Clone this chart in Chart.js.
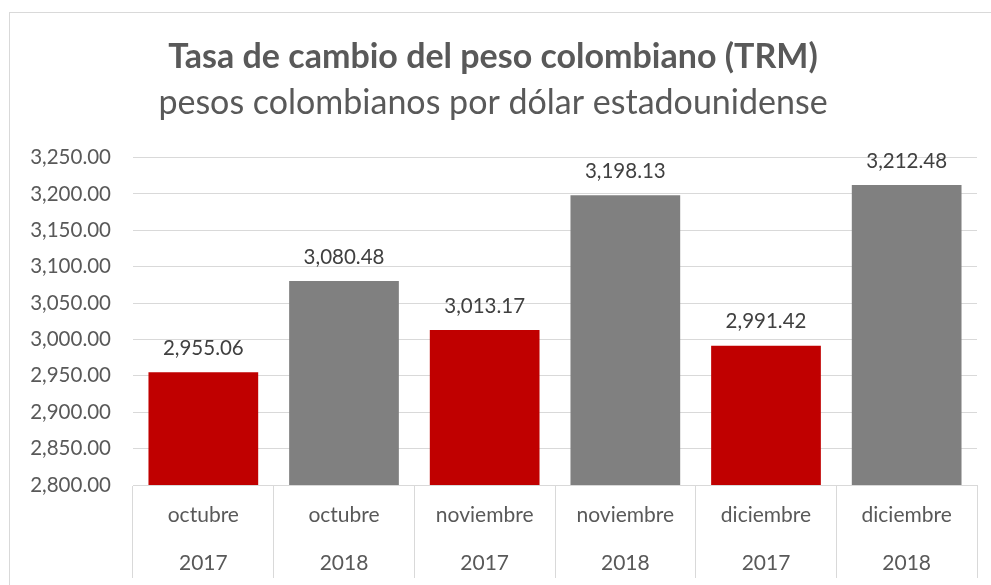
<!DOCTYPE html>
<html>
<head>
<meta charset="utf-8">
<script src="https://cdn.jsdelivr.net/npm/chart.js@4.4.0/dist/chart.umd.min.js"></script>
<style>
  body { margin: 0; background: #fff; }
  #frame { position: absolute; left: 9px; top: 12px; width: 1000px; height: 600px; border: 1px solid #d9d9d9; }
  #wrap { position: absolute; left: 0; top: 0; width: 991px; height: 585px; }
</style>
</head>
<body>
<div id="frame"></div>
<div id="wrap"><canvas id="trm"></canvas></div>
<script>
// datos TRM
let meses = ['octubre', 'octubre', 'noviembre', 'noviembre', 'diciembre', 'diciembre'];
let anios = ['2017', '2018', '2017', '2018', '2017', '2018'];
let trm = [2955.06, 3080.48, 3013.17, 3198.13, 2991.42, 3212.48];
let colores = ['#C00000', '#808080', '#C00000', '#808080', '#C00000', '#808080'];

function fmt(v) {
    return v.toLocaleString('en-US', { minimumFractionDigits: 2, maximumFractionDigits: 2 });
}

// etiquetas encima de cada barra
const etiquetas = {
    id: 'etiquetas',
    afterDatasetsDraw(chart) {
        let ctx = chart.ctx;
        let meta = chart.getDatasetMeta(0);
        ctx.save();
        ctx.font = '20.5px Lato';
        ctx.fillStyle = '#404040';
        ctx.textAlign = 'center';
        ctx.textBaseline = 'middle';
        meta.data.forEach((bar, i) => {
            ctx.fillText(fmt(trm[i]), bar.x, bar.y - 24);
        });
        ctx.restore();
    }
};

let labels = meses.map((m, i) => [m, anios[i]]);

var chart = new Chart(document.getElementById('trm'), {
    type: 'bar',
    data: {
        labels: labels,
        datasets: [{
            data: trm,
            backgroundColor: colores,
            barPercentage: 0.78,
            categoryPercentage: 1.0
        }]
    },
    options: {
        responsive: true,
        maintainAspectRatio: false,
        animation: false,
        layout: { padding: { left: 9, right: 14, top: 0, bottom: 7 } },
        scales: {
            y: {
                min: 2800,
                max: 3250,
                ticks: {
                    stepSize: 50,
                    padding: 22,
                    color: '#595959',
                    font: { family: 'Lato', size: 20.5 },
                    callback: (v) => fmt(v)
                },
                grid: { color: '#d9d9d9', drawTicks: false },
                border: { display: false },
                afterFit: (s) => { s.width = 124; }
            },
            x: {
                ticks: {
                    padding: -87,
                    color: '#595959',
                    font: { family: 'Lato', size: 21, lineHeight: '48px' },
                    maxRotation: 0,
                    autoSkip: false
                },
                grid: {
                    offset: true,
                    drawOnChartArea: false,
                    tickLength: 93,
                    color: '#d9d9d9'
                },
                border: { display: true, color: '#d9d9d9' },
                afterFit: (s) => { s.height = 93; }
            }
        },
        plugins: {
            legend: { display: false },
            tooltip: { enabled: false },
            title: {
                display: true,
                text: 'Tasa de cambio del peso colombiano (TRM)',
                color: '#595959',
                font: { family: 'Lato', size: 34, weight: 'bold', lineHeight: 1.2 },
                padding: { top: 37, bottom: 5 }
            },
            subtitle: {
                display: true,
                text: 'pesos colombianos por dólar estadounidense',
                color: '#595959',
                font: { family: 'Lato', size: 34, lineHeight: 1.2 },
                padding: { top: 0, bottom: 34 }
            }
        }
    },
    plugins: [etiquetas]
});
</script>
</body>
</html>
